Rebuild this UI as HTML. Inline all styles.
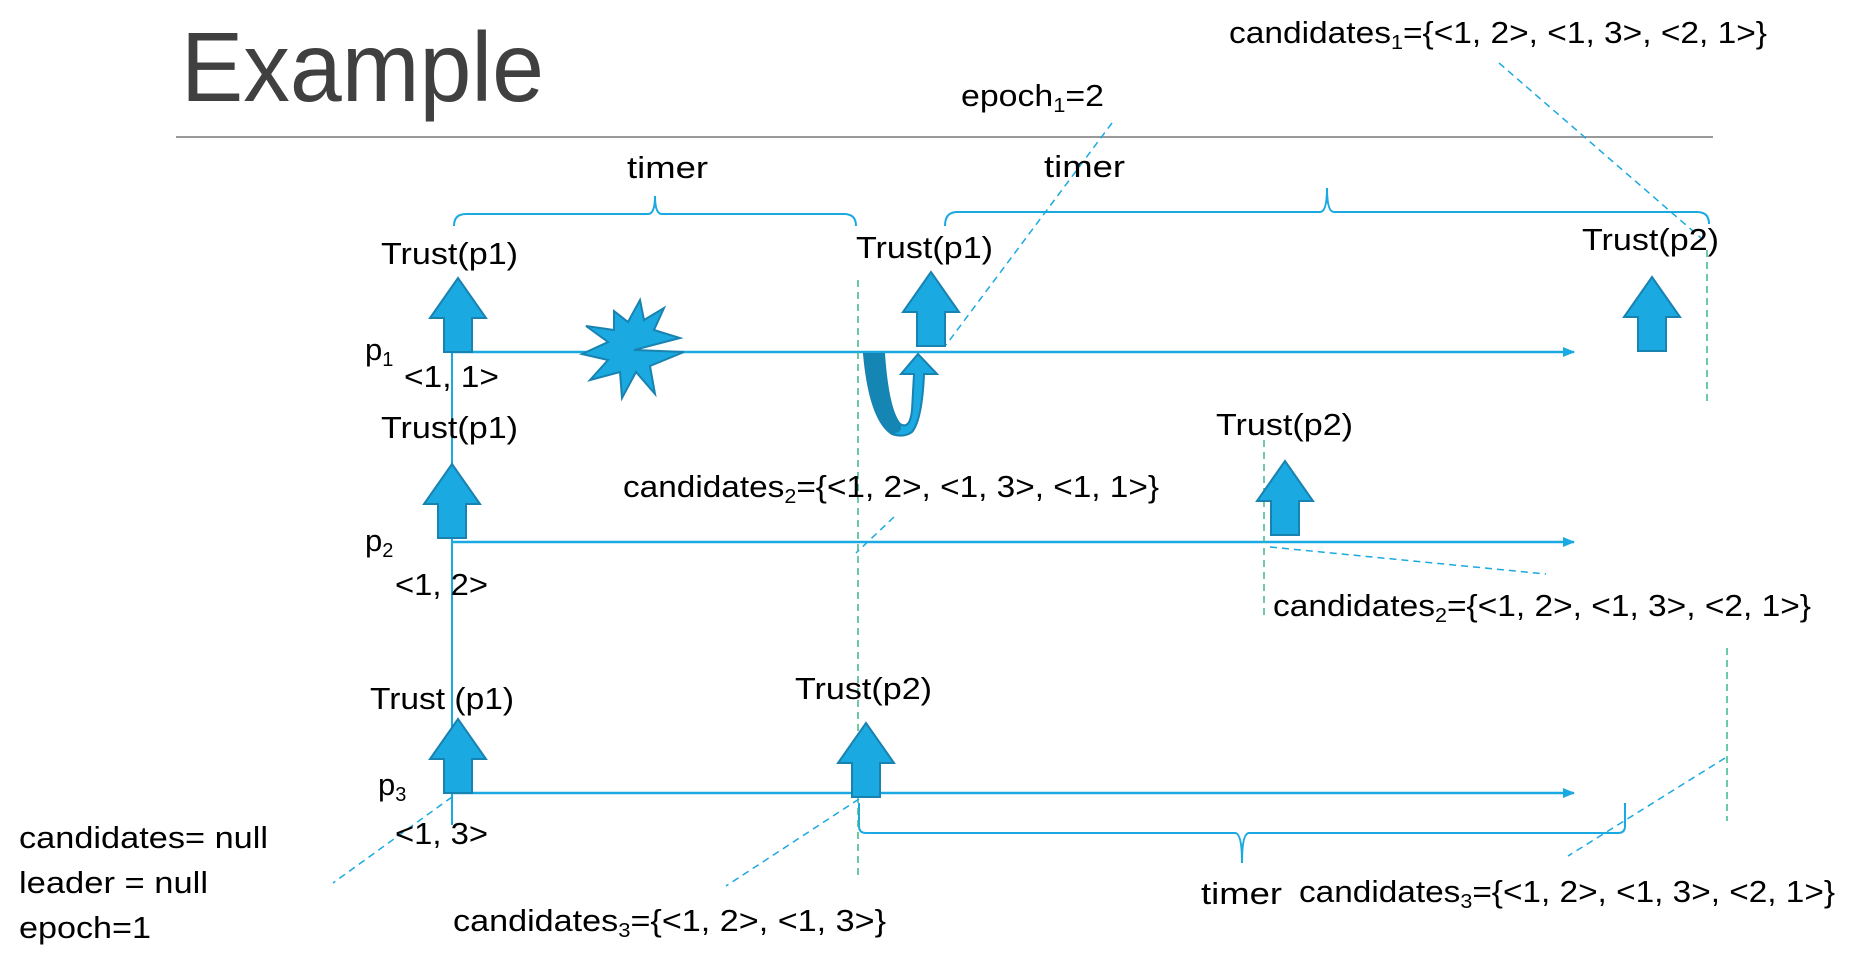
<!DOCTYPE html>
<html><head><meta charset="utf-8"><style>
html,body{margin:0;padding:0;background:#fff;}
svg{display:block;}
text{font-family:"Liberation Sans",sans-serif;fill:#000;font-size:31px;}
</style></head><body>
<svg width="1865" height="976" viewBox="0 0 1865 976" xmlns="http://www.w3.org/2000/svg">
<defs>
<marker id="ah" markerWidth="12" markerHeight="10" refX="11" refY="5" orient="auto" markerUnits="userSpaceOnUse">
<path d="M0,0 L12,5 L0,10 z" fill="#1aa9e0"/></marker>
<g id="barrow"><path d="M-14,0 L-14,-34 L-28,-34 L0,-74 L28,-34 L14,-34 L14,0 z" fill="#1aa9e0" stroke="#1882b0" stroke-width="2"/></g>
</defs>
<text x="181" y="101" style="font-size:98px;fill:#404040" textLength="363" lengthAdjust="spacingAndGlyphs">Example</text>
<line x1="176" y1="137" x2="1713" y2="137" stroke="#999" stroke-width="2"/>

<!-- timelines -->
<line x1="452" y1="352" x2="1574" y2="352" stroke="#1aa9e0" stroke-width="2.5" marker-end="url(#ah)"/>
<line x1="452" y1="542" x2="1574" y2="542" stroke="#1aa9e0" stroke-width="2.5" marker-end="url(#ah)"/>
<line x1="452" y1="793" x2="1574" y2="793" stroke="#1aa9e0" stroke-width="2.5" marker-end="url(#ah)"/>
<line x1="452" y1="352" x2="452" y2="825" stroke="#1aa9e0" stroke-width="2"/>

<!-- braces -->
<path d="M454,226 Q454,214 466,214 L648,214 Q655,214 655,196 Q655,214 662,214 L844,214 Q856,214 856,226" fill="none" stroke="#1aa9e0" stroke-width="2"/>
<path d="M945,226 Q945,212 957,212 L1320,212 Q1327,212 1327,188 Q1327,212 1334,212 L1697,212 Q1709,212 1709,224" fill="none" stroke="#1aa9e0" stroke-width="2"/>
<path d="M859,803 L859,826 Q859,833 866,833 L1235,833 Q1242,833 1242,863 Q1242,833 1249,833 L1618,833 Q1625,833 1625,826 L1625,803" fill="none" stroke="#1aa9e0" stroke-width="2"/>

<!-- green dashed -->
<g stroke="#3cb88a" stroke-width="1.5" stroke-dasharray="7,5" fill="none">
<line x1="858" y1="280" x2="858" y2="880"/>
<line x1="1707" y1="250" x2="1707" y2="404"/>
<line x1="1264" y1="440" x2="1264" y2="615"/>
<line x1="1727" y1="648" x2="1727" y2="821"/>
</g>
<!-- blue dashed -->
<g stroke="#1aa9e0" stroke-width="1.5" stroke-dasharray="7,5" fill="none">
<line x1="1112" y1="123" x2="946" y2="345"/>
<line x1="1499" y1="63" x2="1701" y2="238"/>
<line x1="894" y1="517" x2="856" y2="553"/>
<line x1="1270" y1="547" x2="1546" y2="574"/>
<line x1="1725" y1="758" x2="1568" y2="856"/>
<line x1="859" y1="799" x2="726" y2="886"/>
<line x1="452" y1="797" x2="333" y2="883"/>
</g>

<!-- block arrows -->
<use href="#barrow" transform="translate(458,352)"/>
<use href="#barrow" transform="translate(931,346)"/>
<use href="#barrow" transform="translate(1652,351)"/>
<use href="#barrow" transform="translate(452,538)"/>
<use href="#barrow" transform="translate(1285,535)"/>
<use href="#barrow" transform="translate(458,793)"/>
<use href="#barrow" transform="translate(866,797)"/>

<!-- star -->
<polygon points="634,350 684,352 650,366 655,394 636,372 622,398 620,372 590,380 608,360 582,354 608,342 586,326 614,330 614,311 628,322 640,300 644,320 664,308 654,330 680,338" fill="#1aa9e0" stroke="#1882b0" stroke-width="2"/>

<!-- U-turn -->
<path d="M864,354 L884,354 Q888,410 900,424 Q910,430 912,410 L914,374 L901,374 L918,354 L937,374 L924,374 Q922,420 912,432 Q904,438 892,434 Q870,420 864,354 z" fill="#1aa9e0" stroke="#1882b0" stroke-width="2"/>
<path d="M864,354 L884,354 Q888,410 900,424 Q904,432 892,434 Q870,420 864,354 z" fill="#1585b4"/>

<!-- texts -->
<text x="381" y="264" textLength="137" lengthAdjust="spacingAndGlyphs">Trust(p1)</text>
<text x="856" y="258" textLength="137" lengthAdjust="spacingAndGlyphs">Trust(p1)</text>
<text x="1582" y="250" textLength="137" lengthAdjust="spacingAndGlyphs">Trust(p2)</text>
<text x="365" y="360">p<tspan style="font-size:20px" dy="6">1</tspan></text>
<text x="404" y="387" textLength="95" lengthAdjust="spacingAndGlyphs">&lt;1, 1&gt;</text>
<text x="381" y="438" textLength="137" lengthAdjust="spacingAndGlyphs">Trust(p1)</text>
<text x="1216" y="435" textLength="137" lengthAdjust="spacingAndGlyphs">Trust(p2)</text>
<text x="623" y="497" textLength="536" lengthAdjust="spacingAndGlyphs">candidates<tspan style="font-size:20px" dy="6">2</tspan><tspan dy="-6">={&lt;1, 2&gt;, &lt;1, 3&gt;, &lt;1, 1&gt;}</tspan></text>
<text x="365" y="551">p<tspan style="font-size:20px" dy="6">2</tspan></text>
<text x="395" y="595" textLength="93" lengthAdjust="spacingAndGlyphs">&lt;1, 2&gt;</text>
<text x="1273" y="616" textLength="538" lengthAdjust="spacingAndGlyphs">candidates<tspan style="font-size:20px" dy="6">2</tspan><tspan dy="-6">={&lt;1, 2&gt;, &lt;1, 3&gt;, &lt;2, 1&gt;}</tspan></text>
<text x="370" y="709" textLength="144" lengthAdjust="spacingAndGlyphs">Trust (p1)</text>
<text x="795" y="699" textLength="137" lengthAdjust="spacingAndGlyphs">Trust(p2)</text>
<text x="378" y="795">p<tspan style="font-size:20px" dy="6">3</tspan></text>
<text x="395" y="844" textLength="93" lengthAdjust="spacingAndGlyphs">&lt;1, 3&gt;</text>
<text x="19" y="848" textLength="249" lengthAdjust="spacingAndGlyphs">candidates= null</text>
<text x="19" y="893" textLength="189" lengthAdjust="spacingAndGlyphs">leader = null</text>
<text x="19" y="938" textLength="132" lengthAdjust="spacingAndGlyphs">epoch=1</text>
<text x="1201" y="904" textLength="81" lengthAdjust="spacingAndGlyphs">timer</text>
<text x="1299" y="902" textLength="536" lengthAdjust="spacingAndGlyphs">candidates<tspan style="font-size:20px" dy="6">3</tspan><tspan dy="-6">={&lt;1, 2&gt;, &lt;1, 3&gt;, &lt;2, 1&gt;}</tspan></text>
<text x="453" y="931" textLength="433" lengthAdjust="spacingAndGlyphs">candidates<tspan style="font-size:20px" dy="6">3</tspan><tspan dy="-6">={&lt;1, 2&gt;,  &lt;1, 3&gt;}</tspan></text>
<text x="627" y="178" textLength="81" lengthAdjust="spacingAndGlyphs">timer</text>
<text x="1044" y="177" textLength="81" lengthAdjust="spacingAndGlyphs">timer</text>
<text x="961" y="106" textLength="143" lengthAdjust="spacingAndGlyphs">epoch<tspan style="font-size:20px" dy="6">1</tspan><tspan dy="-6">=2</tspan></text>
<text x="1229" y="43" textLength="538" lengthAdjust="spacingAndGlyphs">candidates<tspan style="font-size:20px" dy="6">1</tspan><tspan dy="-6">={&lt;1, 2&gt;, &lt;1, 3&gt;, &lt;2, 1&gt;}</tspan></text>
</svg>
</body></html>
